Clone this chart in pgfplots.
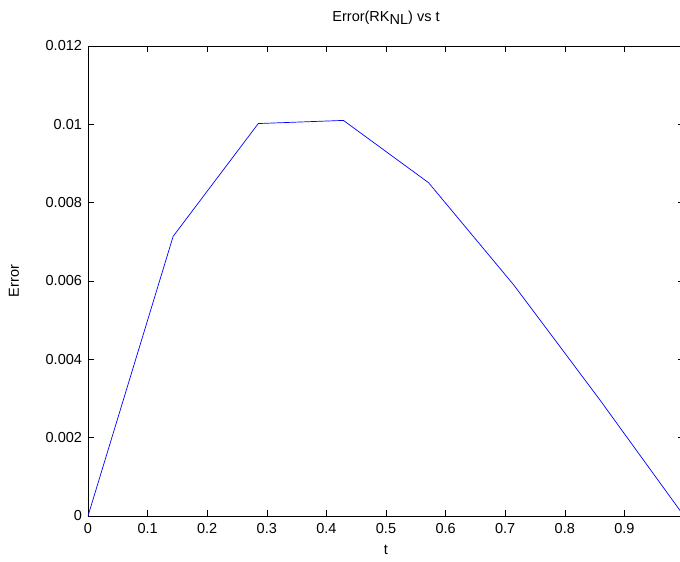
\documentclass[border=0pt]{standalone}
\usepackage{pgfplots}
\pgfplotsset{compat=1.18}
\usepackage{fontspec}
\setmainfont{Liberation Sans}
\begin{document}
\fontsize{14.5}{16}\selectfont
\begin{tikzpicture}[x=1pt,y=1pt]
\begin{axis}[
  at={(0,0)}, anchor=south west,
  scale only axis, width=596pt, height=470pt,
  xmin=0, xmax=1, ymin=0, ymax=0.012,
  xtick={0,0.1,0.2,0.3,0.4,0.5,0.6,0.7,0.8,0.9},
  xticklabels={0,0.1,0.2,0.3,0.4,0.5,0.6,0.7,0.8,0.9},
  ytick={0,0.002,0.004,0.006,0.008,0.01,0.012},
  yticklabels={0,0.002,0.004,0.006,0.008,0.01,0.012},
  scaled y ticks=false,
  tick align=inside, tick pos=both,
  major tick length=6pt,
  tick style={black, line width=0.6pt},
  axis line style={black, line width=0.6pt},
  /pgf/number format/assume math mode=true,
  tick label style={font=\fontsize{14.5}{16}\selectfont},
  xlabel={t}, ylabel={Error},
  label style={font=\fontsize{14.5}{16}\selectfont},
  xlabel style={at={(axis description cs:0.5,0)}, anchor=north, yshift=-24pt},
  ylabel style={at={(axis description cs:0,0.5)}, anchor=south, yshift=64pt},
  title={Error(RK\raisebox{-0.45ex}{NL}) vs t},
  title style={font=\fontsize{14.5}{16}\selectfont, at={(axis description cs:0.5,1)}, anchor=south, yshift=10pt},
  xticklabel style={yshift=-2pt},
  yticklabel style={xshift=-1pt},
]
\addplot[color=blue, line width=0.7pt] coordinates {
  (0,0)
  (0.142857,0.00714)
  (0.285714,0.01002)
  (0.428571,0.01010)
  (0.571429,0.00851)
  (0.714286,0.00590)
  (0.857143,0.00300)
  (1,0)
};
\end{axis}
\pgfresetboundingbox
\path[use as bounding box] (-88pt,-46pt) rectangle (592pt,516pt);
\end{tikzpicture}
\end{document}
